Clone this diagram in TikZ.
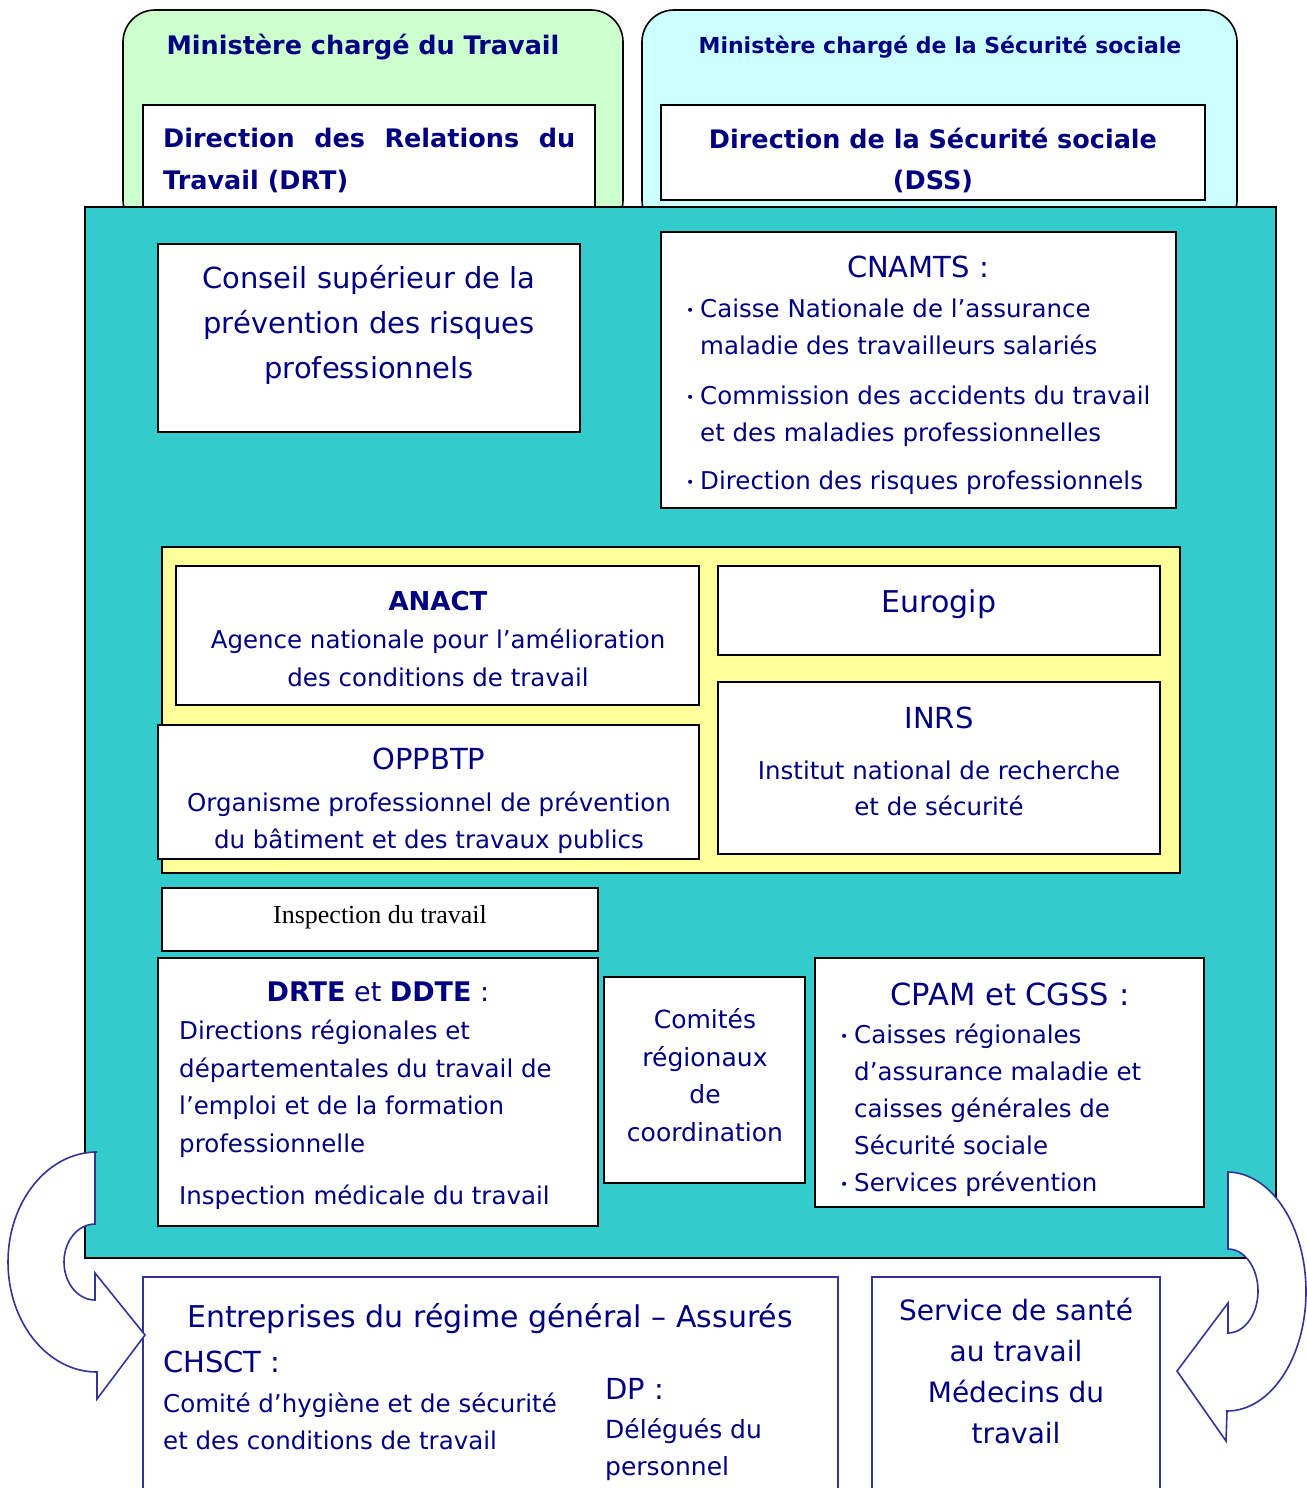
\documentclass[tikz,border=0pt]{standalone}
\usepackage{fontspec}
\setmainfont{DejaVu Sans}
\newfontfamily\seriffont{Liberation Serif}
\definecolor{navytext}{RGB}{0,0,128}
\definecolor{arrowblue}{RGB}{51,51,153}
\definecolor{tealbg}{RGB}{51,204,204}
\definecolor{palegreen}{RGB}{204,255,204}
\definecolor{palecyan}{RGB}{204,255,255}
\definecolor{paleyellow}{RGB}{255,255,153}
\newcommand{\setfs}[2]{\fontsize{#1bp}{#2bp}\selectfont}
\newcommand{\blt}{\makebox[14bp][l]{\raisebox{2bp}{\setfs{14}{14}•}}}
\newcommand{\bltind}{\hspace*{14bp}}

\begin{document}
\begin{tikzpicture}[x=1bp, y=-1bp,
    box/.style={draw=black, fill=white, line width=1.6bp, rectangle, inner sep=0pt, outer sep=0pt, anchor=north west},
    bluebox/.style={box, draw=arrowblue},
    txt/.style={text=navytext, inner sep=0pt, align=center},
    bigarrow/.style={draw=arrowblue, fill=white, line width=1.6bp, line join=miter}
]
\useasboundingbox (0,0) rectangle (1307,1488);
\fill[white] (0,0) rectangle (1307,1488);

% Ministries
\node[box, fill=palegreen, rounded corners=32bp, minimum width=500bp, minimum height=222bp] (travailbox) at (123,10) {};
\node[box, fill=palecyan, rounded corners=32bp, minimum width=595bp, minimum height=222bp] (secubox) at (642,10) {};
\node[txt, font={\setfs{25.5}{30}\bfseries}] (travail) at (363,47) {Ministère chargé du Travail};
\node[txt, font={\setfs{22}{30}\bfseries}] (secu) at (940,47) {Ministère chargé de la Sécurité sociale};

\node[box, minimum width=452bp, minimum height=115bp] (drtbox) at (143,105) {};
\node[box, minimum width=544bp, minimum height=95bp] (dssbox) at (661,105) {};
\node[txt, align=justify, text width=412bp, anchor=west, font={\setfs{25.5}{42}\bfseries}] (drt) at (163,160) {Direction des Relations du Travail (DRT)};
\node[txt, font={\setfs{25.5}{41}\bfseries}] (dss) at (933,160) {Direction de la Sécurité sociale\\(DSS)};

% Prevention bodies
\node[box, fill=tealbg, minimum width=1191bp, minimum height=1051bp] (tealbox) at (85,207) {};

\node[box, minimum width=422bp, minimum height=188bp] (conseilbox) at (158,244) {};
\node[txt, font={\setfs{29}{45}}] (conseil) at (369,325) {Conseil supérieur de la\\prévention des risques\\professionnels};

\node[box, minimum width=515bp, minimum height=276bp] (cnamtsbox) at (661,232) {};
\node[txt, font={\setfs{29}{30}}] (cnamtstitle) at (918,267) {CNAMTS :};
\node[txt, align=left, anchor=west, font={\setfs{24.5}{37}}] (cnamts) at (686,396.5) {\blt Caisse Nationale de l’assurance\\\bltind maladie des travailleurs salariés\\[13bp]\blt Commission des accidents du travail\\\bltind et des maladies professionnelles\\[11bp]\blt Direction des risques professionnels};

\node[box, fill=paleyellow, minimum width=1018bp, minimum height=326bp] (yellowbox) at (162,547) {};
\node[box, minimum width=523bp, minimum height=139bp] (anactbox) at (176,566) {};
\node[txt, font={\setfs{24.5}{38}}] (anact) at (438,639) {{\setfs{26}{38}\bfseries ANACT}\\Agence nationale pour l’amélioration\\des conditions de travail};
\node[box, minimum width=541bp, minimum height=134bp] (oppbtpbox) at (158,725) {};
\node[txt, font={\setfs{24.5}{37}}] (oppbtp) at (429,801) {{\setfs{29}{37}OPPBTP}\\[5bp]Organisme professionnel de prévention\\du bâtiment et des travaux publics};
\node[box, minimum width=442bp, minimum height=89bp] (eurogipbox) at (718,566) {};
\node[txt, font={\setfs{30}{30}}] (eurogip) at (939,604) {Eurogip};
\node[box, minimum width=442bp, minimum height=172bp] (inrsbox) at (718,682) {};
\node[txt, font={\setfs{24.5}{36}}] (inrs) at (939,761) {{\setfs{29}{36}INRS}\\[15bp]Institut national de recherche\\et de sécurité};

\node[box, minimum width=436bp, minimum height=63bp] (inspectionbox) at (162,888) {};
\node[inner sep=0pt, font={\seriffont\setfs{26}{26}}] (inspection) at (380,917) {Inspection du travail};

\node[box, minimum width=440bp, minimum height=268bp] (drtebox) at (158,958) {};
\node[txt, font={\setfs{27}{30}}] (drtetitle) at (378,992) {\textbf{DRTE} et \textbf{DDTE} :};
\node[txt, align=left, anchor=west, font={\setfs{24.5}{37.5}}] (drte) at (179,1115) {Directions régionales et\\départementales du travail de\\l’emploi et de la formation\\professionnelle\\[15bp]Inspection médicale du travail};

\node[box, minimum width=201bp, minimum height=206bp] (comitesbox) at (604,977) {};
\node[txt, font={\setfs{25}{37.5}}] (comites) at (705,1075) {Comités\\régionaux\\de\\coordination};

\node[box, minimum width=389bp, minimum height=249bp] (cpambox) at (815,958) {};
\node[txt, font={\setfs{30.5}{30}}] (cpamtitle) at (1010,994) {CPAM et CGSS :};
\node[txt, align=left, anchor=west, font={\setfs{24.5}{37}}] (cpam) at (840,1110) {\blt Caisses régionales\\\bltind d’assurance maladie et\\\bltind caisses générales de\\\bltind Sécurité sociale\\\blt Services prévention};

% Companies
\node[bluebox, minimum width=695bp, minimum height=230bp] (entreprisesbox) at (143,1277) {};
\node[txt, font={\setfs{30}{30}}] (entreprises) at (490,1319) {Entreprises du régime général – Assurés};
\node[txt, anchor=west, font={\setfs{29}{30}}] (chsct) at (163,1362) {CHSCT :};
\node[txt, align=left, anchor=west, font={\setfs{24.5}{37}}] (chsctdef) at (163,1421) {Comité d’hygiène et de sécurité\\et des conditions de travail};
\node[txt, anchor=west, font={\setfs{29}{30}}] (dp) at (605,1389) {DP :};
\node[txt, align=left, anchor=west, font={\setfs{25}{37}}] (dpdef) at (605,1449.5) {Délégués du\\personnel};

\node[bluebox, minimum width=288bp, minimum height=230bp] (servicebox) at (872,1277) {};
\node[txt, font={\setfs{28}{40.7}}] (service) at (1016,1371) {Service de santé\\au travail\\Médecins du\\travail};

% Round arrows
\draw[bigarrow] (95,1152) -- (95,1224) arc[start angle=270, end angle=90, x radius=31, y radius=38]
    -- (95,1273) -- (145,1335) -- (97,1399) -- (97,1372)
    arc[start angle=90, end angle=270, x radius=89, y radius=110] -- cycle;
\draw[bigarrow] (1228,1172) -- (1228,1249) arc[start angle=270, end angle=450, x radius=30, y radius=42]
    -- (1228,1303) -- (1177,1371) -- (1226,1441) -- (1227,1411)
    arc[start angle=90, end angle=-90, x radius=79, y radius=119.5] -- cycle;
\end{tikzpicture}
\end{document}
